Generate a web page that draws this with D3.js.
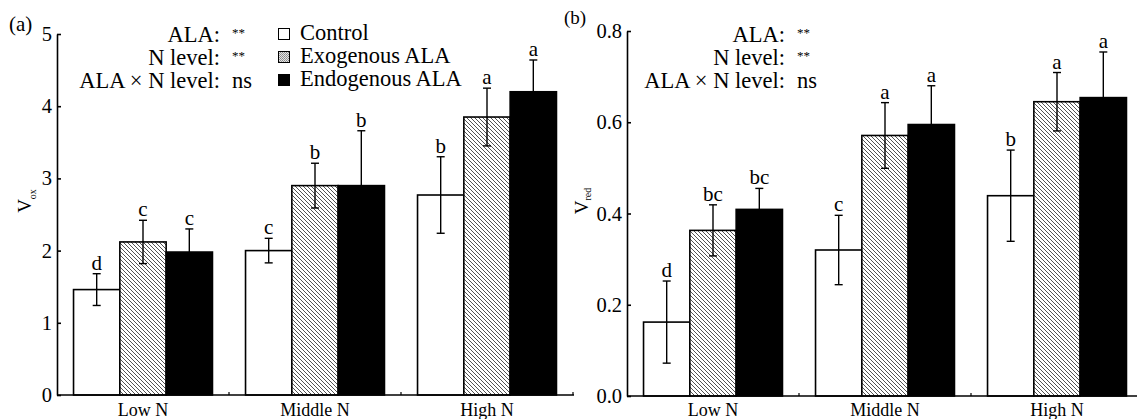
<!DOCTYPE html>
<html lang="en">

<head>
    <meta charset="UTF-8">
    <title>Vox and Vred</title>
    <script src="https://d3js.org/d3.v7.min.js"></script>
    <style>
        body {
            margin: 0;
            background: #fff;
            font-family: "Liberation Serif", "Times New Roman", serif;
        }
    </style>
</head>

<body>
    <div id="chart"></div>
    <script>
        const width = 1137, height = 419;

        const groups = ["Low N", "Middle N", "High N"];
        const treatments = ["Control", "Exogenous ALA", "Endogenous ALA"];
        const effects = ["ALA:", "N level:", "ALA \u00d7 N level:"];
        const effectMarks = ["**", "**", "ns"];

        // panel (a) Vox, rows = N level, cols = treatment
        const voxMean = [[1.46, 2.12, 1.98], [2.00, 2.90, 2.90], [2.77, 3.85, 4.20]];
        const voxErr = [[0.22, 0.30, 0.32], [0.17, 0.31, 0.76], [0.53, 0.40, 0.44]];
        const voxLetters = [["d", "c", "c"], ["c", "b", "b"], ["b", "a", "a"]];
        const voxTicks = [0, 1, 2, 3, 4, 5];

        // panel (b) Vred
        const vredMean = [[0.162, 0.363, 0.409], [0.320, 0.571, 0.595], [0.439, 0.645, 0.654]];
        const vredErr = [[0.090, 0.056, 0.046], [0.076, 0.072, 0.085], [0.100, 0.064, 0.100]];
        const vredLetters = [["d", "bc", "bc"], ["c", "a", "a"], ["b", "a", "a"]];
        const vredTicks = [0, 0.2, 0.4, 0.6, 0.8];

        const svg = d3.select("#chart").append("svg")
            .attr("width", width)
            .attr("height", height)
            .style("font-family", "'Liberation Serif', 'Times New Roman', serif");

        const defs = svg.append("defs");
        const hatch = defs.append("pattern")
            .attr("id", "hatch")
            .attr("patternUnits", "userSpaceOnUse")
            .attr("width", 4).attr("height", 4);
        hatch.append("rect").attr("width", 4).attr("height", 4).attr("fill", "#fff");
        hatch.append("path")
            .attr("d", "M-1,-1 L5,5 M-1,3 L1,5 M3,-1 L5,1")
            .attr("stroke", "#4a4a4a")
            .attr("stroke-width", 0.95);

        const dots = defs.append("pattern")
            .attr("id", "dots")
            .attr("patternUnits", "userSpaceOnUse")
            .attr("width", 2).attr("height", 2);
        dots.append("rect").attr("width", 2).attr("height", 2).attr("fill", "#e6e6e6");
        dots.append("rect").attr("width", 1).attr("height", 1).attr("fill", "#8a8a8a");
        dots.append("rect").attr("x", 1).attr("y", 1).attr("width", 1).attr("height", 1).attr("fill", "#9a9a9a");

        const fills = ["#fff", "url(#hatch)", "#000"];

        function drawPanel(o) {
            const g = svg.append("g");

            const x = d3.scaleBand().domain(groups).range([o.x0, o.x0 + 3 * 172]);
            const xi = d3.scaleBand().domain(treatments).range([0, x.bandwidth()])
                .paddingOuter(0.357);
            const y = d3.scaleLinear().domain(o.domain).range(o.range);

            // bars
            groups.forEach((grp, gi) => {
                const cell = g.append("g").attr("transform", `translate(${x(grp)},0)`);
                treatments.forEach((t, ti) => {
                    const m = o.mean[gi][ti], e = o.err[gi][ti];
                    const cx = xi(t) + xi.bandwidth() / 2;
                    cell.append("rect")
                        .attr("x", xi(t))
                        .attr("y", y(m))
                        .attr("width", xi.bandwidth())
                        .attr("height", y(0) - y(m))
                        .attr("fill", fills[ti])
                        .attr("stroke", "#000")
                        .attr("stroke-width", 1.6);
                    // error bar
                    const eb = cell.append("g")
                        .attr("stroke", "#000")
                        .attr("stroke-width", 1.4);
                    eb.append("line").attr("x1", cx).attr("x2", cx)
                        .attr("y1", y(m - e)).attr("y2", y(m + e));
                    [m - e, m + e].forEach(v => {
                        eb.append("line").attr("x1", cx - 4).attr("x2", cx + 4)
                            .attr("y1", y(v)).attr("y2", y(v));
                    });
                    cell.append("text")
                        .attr("x", cx)
                        .attr("y", y(m + e) - 4)
                        .attr("text-anchor", "middle")
                        .style("font-size", "21px")
                        .text(o.letters[gi][ti]);
                });
            });

            // y axis
            const yAxis = d3.axisLeft(y)
                .tickValues(o.ticks)
                .tickFormat(o.format)
                .tickSizeInner(-4)
                .tickSizeOuter(0)
                .tickPadding(5);
            const ya = g.append("g")
                .attr("transform", `translate(${o.x0},0)`)
                .call(yAxis)
                .attr("font-family", null);
            ya.selectAll("path, line").attr("stroke", "#000").attr("stroke-width", 1.6);
            ya.selectAll("text")
                .style("font-size", "20.5px")
                .attr("fill", "#000");

            // x axis: baseline plus small ticks at group boundaries
            g.append("line")
                .attr("x1", o.x0).attr("x2", x.range()[1] + 1)
                .attr("y1", y(0)).attr("y2", y(0))
                .attr("stroke", "#000").attr("stroke-width", 1.6);
            groups.forEach(grp => {
                const bx = x(grp) + x.bandwidth();
                g.append("line")
                    .attr("x1", bx).attr("x2", bx)
                    .attr("y1", y(0)).attr("y2", y(0) - 3)
                    .attr("stroke", "#000").attr("stroke-width", 1.2);
                g.append("text")
                    .attr("x", x(grp) + x.bandwidth() / 2)
                    .attr("y", 416)
                    .attr("text-anchor", "middle")
                    .style("font-size", "18px")
                    .text(grp);
            });

            // y label
            const yl = g.append("text")
                .attr("transform", `translate(${o.labelX},201) rotate(-90)`)
                .attr("text-anchor", "middle")
                .style("font-size", "19px");
            yl.append("tspan").text("V");
            yl.append("tspan").attr("dy", o.subDy).style("font-size", "10px").text(o.sub);

            // panel tag
            g.append("text")
                .attr("x", o.tagX).attr("y", o.tagY)
                .style("font-size", o.tagSize)
                .text(o.tag);

            // significance block
            effects.forEach((ef, i) => {
                const by = 42 + i * 22.8;
                g.append("text")
                    .attr("x", o.effX).attr("y", by)
                    .attr("text-anchor", "end")
                    .style("font-size", "22.5px")
                    .text(ef);
                const mark = effectMarks[i];
                g.append("text")
                    .attr("x", o.effX + 12).attr("y", mark === "ns" ? by : by - 5)
                    .style("font-size", mark === "ns" ? "22.5px" : "13px")
                    .text(mark);
            });
        }

        drawPanel({
            x0: 57, domain: [0, 5], range: [395, 34],
            mean: voxMean, err: voxErr, letters: voxLetters,
            ticks: voxTicks, format: d3.format("d"),
            labelX: 31, sub: "ox", subDy: 5,
            tag: "(a)", tagX: 9, tagY: 31, tagSize: "21px",
            effX: 220
        });

        drawPanel({
            x0: 627, domain: [0, 0.8], range: [396, 31],
            mean: vredMean, err: vredErr, letters: vredLetters,
            ticks: vredTicks, format: d3.format(".1f"),
            labelX: 588, sub: "red", subDy: 3,
            tag: "(b)", tagX: 564, tagY: 24, tagSize: "19px",
            effX: 785
        });

        // legend (panel a)
        const legend = svg.append("g");
        treatments.forEach((t, i) => {
            const ly = 40 + i * 23;
            legend.append("rect")
                .attr("x", 278.5).attr("y", ly - 11.5)
                .attr("width", 11).attr("height", 11)
                .attr("fill", i === 1 ? "url(#dots)" : fills[i])
                .attr("stroke", "#000")
                .attr("stroke-width", 1);
            legend.append("text")
                .attr("x", 300).attr("y", ly)
                .style("font-size", "22.5px")
                .text(t);
        });
    </script>
</body>

</html>
